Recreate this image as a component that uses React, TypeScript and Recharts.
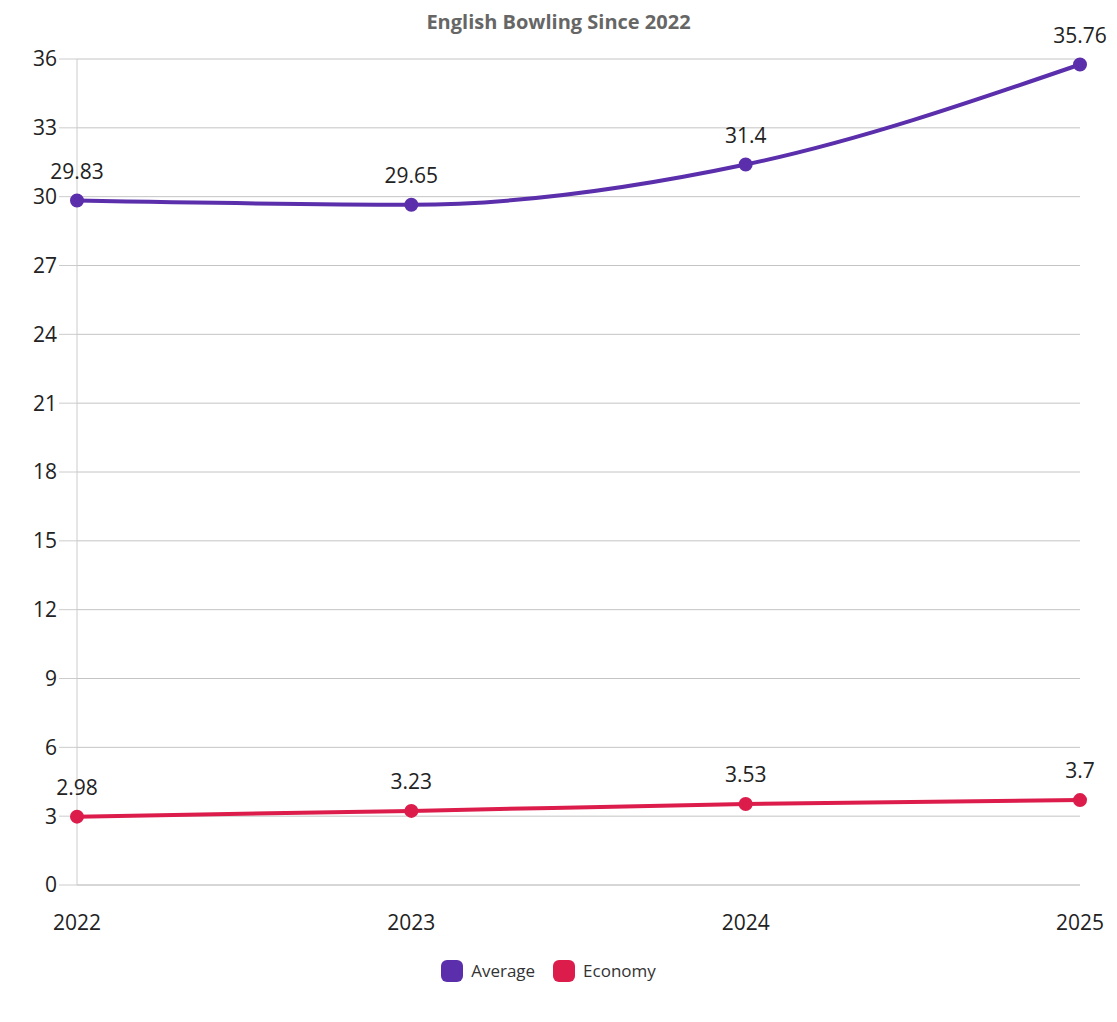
import { LineChart, Line, XAxis, YAxis, CartesianGrid, Legend, LabelList } from "recharts"

const years = ["2022", "2023", "2024", "2025"]
const average = [29.83, 29.65, 31.4, 35.76]
const economy = [2.98, 3.23, 3.53, 3.7]
const yTicks = [0, 3, 6, 9, 12, 15, 18, 21, 24, 27, 30, 33, 36]

const data = years.map((y, i) => ({ year: y, Average: average[i], Economy: economy[i] }))

const FONT = "'Open Sans', 'Noto Sans', sans-serif"
const PURPLE = "#5b2eab"
const RED = "#dc1c4b"

function LegendContent() {
  const items = [
    { name: "Average", color: PURPLE },
    { name: "Economy", color: RED },
  ]
  return (
    <div style={{ display: "flex", justifyContent: "center", gap: 18, fontFamily: FONT, fontSize: 17, color: "#333" }}>
      {items.map((it) => (
        <div key={it.name} style={{ display: "flex", alignItems: "center", gap: 8 }}>
          <span style={{ width: 22, height: 22, borderRadius: 6, background: it.color, display: "inline-block" }} />
          {it.name}
        </div>
      ))}
    </div>
  )
}

export default function App() {
  return (
    <div style={{ position: "absolute", left: 0, top: 0, width: 1117, height: 1022, background: "#fff" }}>
      <div style={{ position: "absolute", top: 8, width: 1117, textAlign: "center", fontFamily: FONT, fontWeight: 700, fontSize: 20, color: "#666" }}>
        English Bowling Since 2022
      </div>
      <LineChart width={1117} height={1022} data={data} margin={{ top: 59, right: 37, left: 17, bottom: 84 }}>
        <CartesianGrid vertical={false} stroke="#c4c4c4" />
        <XAxis
          dataKey="year"
          height={30}
          tick={{ fontSize: 21, fill: "#222", fontFamily: FONT }}
          tickLine={false}
          axisLine={{ stroke: "#ccc" }}
          tickMargin={24}
          interval={0}
        />
        <YAxis
          width={60}
          domain={[0, 36]}
          ticks={yTicks}
          tick={{ fontSize: 21, fill: "#222", fontFamily: FONT }}
          tickLine={{ stroke: "#ccc" }}
          tickSize={18}
          axisLine={{ stroke: "#ccc" }}
        />
        <Legend content={<LegendContent />} wrapperStyle={{ top: 959 }} />
        <Line type="monotone" dataKey="Average" stroke={PURPLE} strokeWidth={4} dot={{ r: 5, fill: PURPLE, stroke: PURPLE }} isAnimationActive={false}>
          <LabelList dataKey="Average" position="top" offset={22} style={{ fontSize: 21, fill: "#222", fontFamily: FONT }} />
        </Line>
        <Line type="monotone" dataKey="Economy" stroke={RED} strokeWidth={4} dot={{ r: 5, fill: RED, stroke: RED }} isAnimationActive={false}>
          <LabelList dataKey="Economy" position="top" offset={22} style={{ fontSize: 21, fill: "#222", fontFamily: FONT }} />
        </Line>
      </LineChart>
    </div>
  )
}
